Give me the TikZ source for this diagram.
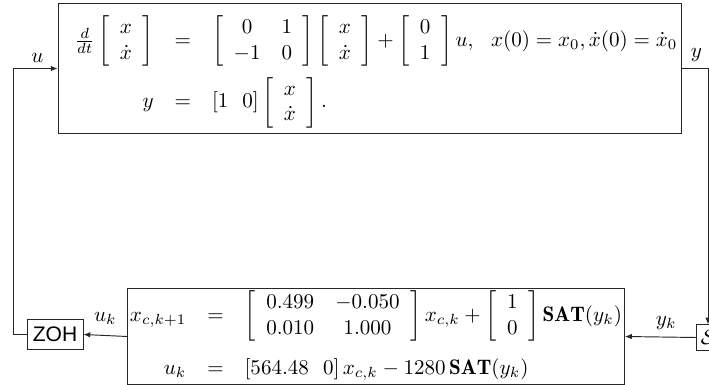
\documentclass[tikz,border=0pt]{standalone}
\usepackage{amsmath,amssymb}
\usepackage{fontspec}
\newfontfamily\zohfont{Liberation Sans}
\usetikzlibrary{arrows.meta}
\tikzset{
  blk/.style={draw=black!85, line width=0.45pt, inner sep=0pt, fill=white},
  conn/.style={line width=0.45pt, draw=black!85},
  arr/.style={conn, -{Latex[length=3.2pt,width=2.6pt]}},
  lbl/.style={inner sep=0pt}
}
\begin{document}
\begin{tikzpicture}[x=0.475pt,y=-0.475pt]
\useasboundingbox (0,0) rectangle (709,385);
% plant
\node[blk, minimum width=295.9pt, minimum height=62.2pt] (plant) at (369.5,68.5) {};
\node[lbl] (plantEq) at (376,72) {$\begin{array}{rcl}
\frac{d}{dt}\left[\begin{array}{c}x\\ \dot x\end{array}\right] & = &
\left[\begin{array}{cc}0&1\\ -1&0\end{array}\right]\left[\begin{array}{c}x\\ \dot x\end{array}\right]+\left[\begin{array}{c}0\\ 1\end{array}\right]u,~~x(0)=x_0,\dot x(0)=\dot x_0\\[11pt]
y & = & [1~~0]\left[\begin{array}{c}x\\ \dot x\end{array}\right].
\end{array}$};
% controller
\node[blk, inner sep=1.2pt, minimum height=45pt] (ctrl) at (376,336.5) {$\begin{array}{@{}rcl@{}}
x_{c,k+1} & = & \left[\begin{array}{cc}0.499&-0.050\\ 0.010&1.000\end{array}\right]x_{c,k}+\left[\begin{array}{c}1\\ 0\end{array}\right]\mathbf{SAT}(y_k)\\[13pt]
u_k & = & [564.48~~0]\,x_{c,k}-1280\,\mathbf{SAT}(y_k)
\end{array}$};
% ZOH
\node[blk, minimum width=26.6pt, minimum height=14.7pt] (zoh) at (55,334.5) {\zohfont ZOH};
% sampler
\node[blk, minimum width=11pt, minimum height=12pt, inner sep=1pt] (samp) at (708,337.5) {$\mathcal{S}$};
% connectors
\draw[arr] (ctrl.west) -- (zoh.east) node[lbl, pos=0.5, above=5pt] (ukl) {$u_k$};
\draw[arr] (zoh.west) -- ++(-13,0) |- (plant.west) node[lbl, pos=0.77, above=2.5pt] (ul) {$u$};
\draw[arr] (plant.east) -| (samp.north) node[lbl, pos=0.28, above=3pt] (yl) {$y$};
\draw[arr] (samp.west) -- (ctrl.east) node[lbl, pos=0.42, above=3.5pt] (ykl) {$y_k$};
\end{tikzpicture}
\end{document}
